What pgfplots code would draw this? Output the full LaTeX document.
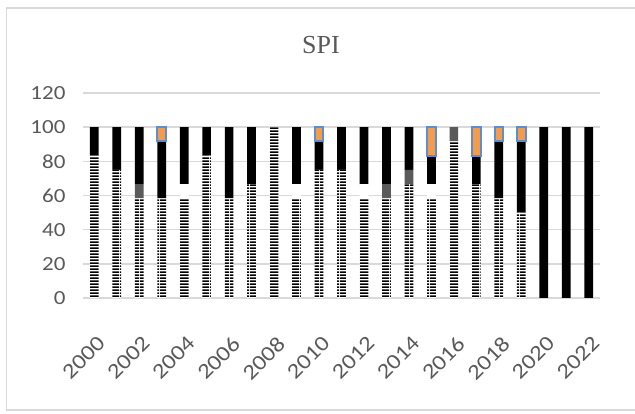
\documentclass[border=0pt]{standalone}
\usepackage{fontspec}
\setmainfont{Carlito}
\newfontfamily\tickfont{Carlito}[FakeStretch=1.15]
\newfontfamily\seriffont{Liberation Serif}
\usepackage{pgfplots}
\pgfplotsset{compat=1.18}
\usetikzlibrary{patterns}
\definecolor{txt}{HTML}{595959}
\definecolor{grd}{HTML}{D9D9D9}
\definecolor{org}{HTML}{F59B4C}
\definecolor{blu}{HTML}{5B8FD0}
\definecolor{dgr}{HTML}{5A5A5A}
\pgfdeclarepatternformonly{dashh}{\pgfpointorigin}{\pgfpoint{10pt}{3pt}}{\pgfpoint{10pt}{3pt}}{%
  \pgfpathrectangle{\pgfpointorigin}{\pgfpoint{10pt}{2pt}}\pgfusepath{fill}}
\pgfplotsset{
  base/.style={
    scale only axis, width=517pt, height=205pt,
    xmin=-0.5, xmax=22.5, ymin=0, ymax=120,
    bar width=8.7pt,
    axis line style={draw=none}, tick style={draw=none},
  }
}
\begin{document}
\begin{tikzpicture}[x=1pt,y=1pt]
\useasboundingbox (0,0) rectangle (635,414);
\fill[white] (0,0) rectangle (635,414);
\draw[grd, line width=1.5pt] (6.5,4) rectangle (650,406);
\node[txt, anchor=base, font=\seriffont\fontsize{26}{30}\selectfont, inner sep=0pt] at (321,360.7) {SPI};
\begin{axis}[base,
  at={(83pt,116pt)}, anchor=south west,
  ybar stacked,
  ymajorgrids, grid style={grd, line width=1.5pt},
  ytick={0,20,...,120},
  xtick={0,2,...,22},
  xticklabels={2000,2002,2004,2006,2008,2010,2012,2014,2016,2018,2020,2022},
  /pgf/number format/assume math mode=true,
  ticklabel style={txt, font=\tickfont\fontsize{20}{22}\selectfont},
  yticklabel style={xshift=-14pt},
  xticklabel style={font=\tickfont\fontsize{21.5}{23}\selectfont, xshift=2pt, yshift=-37pt, rotate=45, anchor=north east, inner sep=0pt},
]
% striped (bottom)
\addplot[draw=none, fill=white, postaction={pattern=dashh, pattern color=black}] coordinates {
(0,83.33) (1,75) (2,58.33) (3,58.33) (4,58.33) (5,83.33) (6,58.33) (7,66.67) (8,100) (9,58.33) (10,75) (11,75)
(12,58.33) (13,58.33) (14,66.67) (15,58.33) (16,91.67) (17,66.67) (18,58.33) (19,50) (20,0) (21,0) (22,0)};
% white
\addplot[draw=none, fill=white] coordinates {
(0,0) (1,0) (2,0) (3,0) (4,8.33) (5,0) (6,0) (7,0) (8,0) (9,8.33) (10,0) (11,0)
(12,8.33) (13,0) (14,0) (15,8.33) (16,0) (17,0) (18,0) (19,0) (20,0) (21,0) (22,0)};
% dark gray
\addplot[draw=none, fill=dgr] coordinates {
(0,0) (1,0) (2,8.33) (3,0) (4,0) (5,0) (6,0) (7,0) (8,0) (9,0) (10,0) (11,0)
(12,0) (13,8.33) (14,8.33) (15,0) (16,8.33) (17,0) (18,0) (19,0) (20,0) (21,0) (22,0)};
% black
\addplot[draw=none, fill=black] coordinates {
(0,16.67) (1,25) (2,33.33) (3,33.33) (4,33.33) (5,16.67) (6,41.67) (7,33.33) (8,0) (9,33.33) (10,16.67) (11,25)
(12,33.33) (13,33.33) (14,25) (15,16.67) (16,0) (17,16.67) (18,33.33) (19,41.67) (20,100) (21,100) (22,100)};
\end{axis}
% orange top segments
\begin{axis}[base,
  at={(83pt,116pt)}, anchor=south west,
  ybar stacked, ticks=none,
]
\addplot[draw=none, fill=none] coordinates {(3,91.67) (10,91.67) (15,83.33) (17,83.33) (18,91.67) (19,91.67)};
\addplot[draw=blu, line width=2pt, fill=org] coordinates {(3,8.33) (10,8.33) (15,16.67) (17,16.67) (18,8.33) (19,8.33)};
\end{axis}
\end{tikzpicture}
\end{document}
